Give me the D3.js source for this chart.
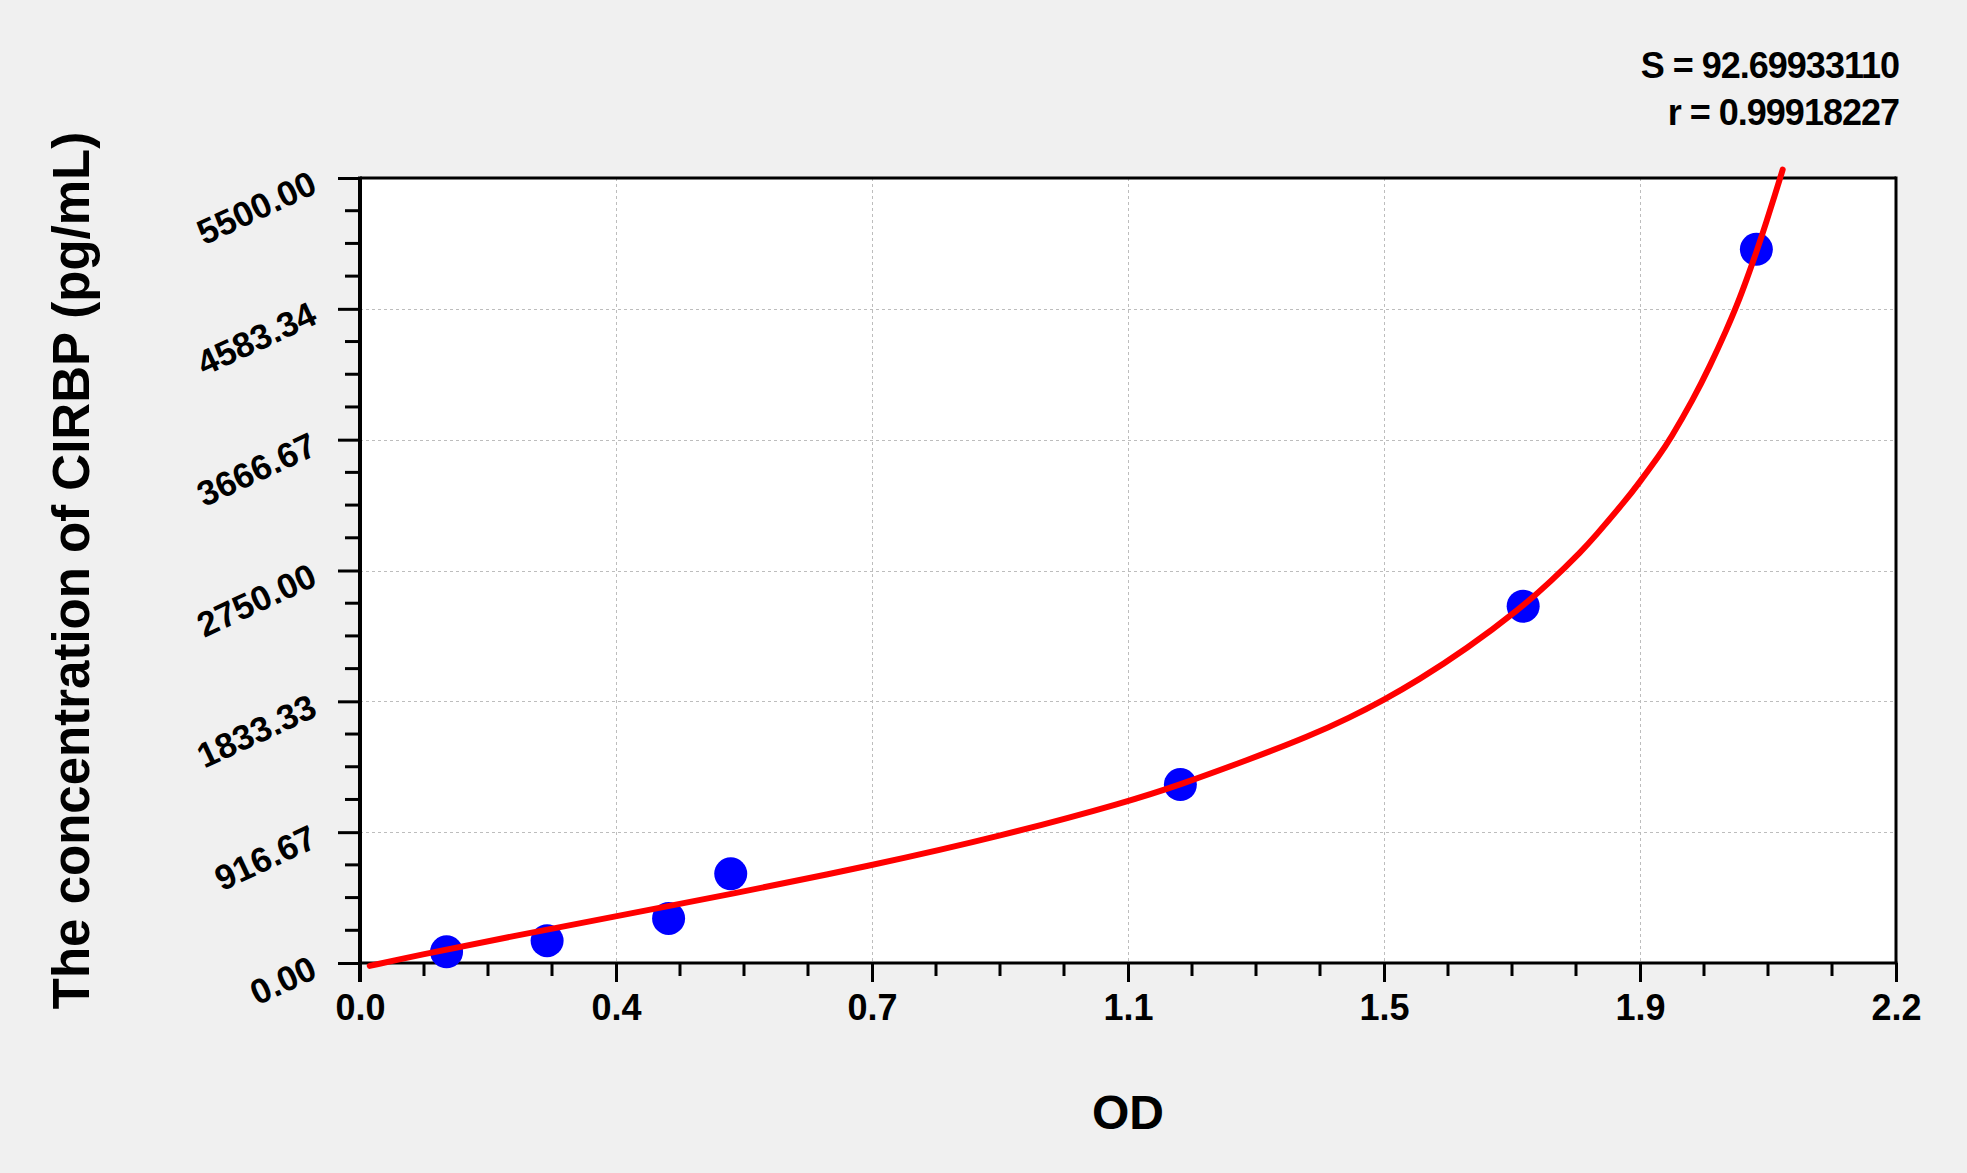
<!DOCTYPE html>
<html lang="en">
<head>
<meta charset="utf-8">
<title>CIRBP standard curve</title>
<script src="https://d3js.org/d3.v7.min.js"></script>
<style>
  body { margin: 0; background: #f0f0f0; }
  text { font-family: "Liberation Sans", Arial, sans-serif; font-weight: bold; fill: #000; }
</style>
</head>
<body>
<div id="chart"></div>
<script>
// standards: OD vs concentration (pg/mL)
var pointOD   = [0.124, 0.268, 0.442, 0.531, 1.175, 1.666, 2.000];
var pointConc = [78.125, 156.25, 312.5, 625, 1250, 2500, 5000];

// fitted curve
var curveOD   = [0.014, 0.077, 0.22, 0.364, 0.531, 0.734, 0.919, 1.1, 1.175, 1.272, 1.361, 1.418, 1.467, 1.5135, 1.585, 1.6625, 1.7044, 1.752, 1.7665, 1.8143, 1.83, 1.862, 1.876, 1.9097, 1.9336, 1.9575, 1.9718, 1.9862, 2.0005, 2.0148, 2.0267, 2.0377];
var curveConc = [-20, 49, 189, 325, 482, 684, 890, 1130, 1250, 1423, 1592, 1720, 1845, 1975, 2200, 2487, 2667, 2898, 2975, 3251, 3350, 3564, 3665, 3951, 4183, 4439, 4603, 4790, 4987, 5199, 5383, 5559];

var xTickLabels = ["0.0", "0.4", "0.7", "1.1", "1.5", "1.9", "2.2"];
var yTickLabels = ["0.00", "916.67", "1833.33", "2750.00", "3666.67", "4583.34", "5500.00"];
var fitText = ["S = 92.69933110", "r = 0.99918227"];

var W = 1967, H = 1173;
var pLeft = 360, pRight = 1896, pTop = 178, pBottom = 963;
var xMax = 2.2, yMax = 5500;

var svg = d3.select("#chart").append("svg")
    .attr("width", W).attr("height", H);

svg.append("rect").attr("width", W).attr("height", H).attr("fill", "#f0f0f0");

var x = d3.scaleLinear().domain([0, xMax]).range([pLeft, pRight]);
var y = d3.scaleLinear().domain([0, yMax]).range([pBottom, pTop]);

var xMajor = d3.range(xTickLabels.length).map(function (i) { return i * xMax / (xTickLabels.length - 1); });
var yMajor = d3.range(yTickLabels.length).map(function (i) { return i * yMax / (yTickLabels.length - 1); });
var xMinor = d3.range((xTickLabels.length - 1) * 4 + 1).map(function (i) { return i * xMax / ((xTickLabels.length - 1) * 4); });
var yMinor = d3.range((yTickLabels.length - 1) * 4 + 1).map(function (i) { return i * yMax / ((yTickLabels.length - 1) * 4); });

// plot area
svg.append("rect")
    .attr("x", pLeft).attr("y", pTop)
    .attr("width", pRight - pLeft).attr("height", pBottom - pTop)
    .attr("fill", "#fff");

// grid
var grid = svg.append("g").attr("stroke", "#bdbdbd").attr("stroke-width", 1).attr("stroke-dasharray", "3,3");
grid.selectAll(".gx").data(xMajor.slice(1, -1)).enter().append("line")
    .attr("x1", function (d) { return Math.round(x(d)) + 0.5; })
    .attr("x2", function (d) { return Math.round(x(d)) + 0.5; })
    .attr("y1", pTop).attr("y2", pBottom);
grid.selectAll(".gy").data(yMajor.slice(1, -1)).enter().append("line")
    .attr("y1", function (d) { return Math.round(y(d)) + 0.5; })
    .attr("y2", function (d) { return Math.round(y(d)) + 0.5; })
    .attr("x1", pLeft).attr("x2", pRight);

// frame
svg.append("line").attr("x1", pLeft).attr("x2", pRight).attr("y1", pTop).attr("y2", pTop)
    .attr("stroke", "#000").attr("stroke-width", 3);
svg.append("line").attr("x1", pRight).attr("x2", pRight).attr("y1", pTop - 1.5).attr("y2", pBottom)
    .attr("stroke", "#000").attr("stroke-width", 3);

// x axis
var xAxis = d3.axisBottom(x).tickValues(xMajor).tickSize(19)
    .tickFormat(function (d, i) { return xTickLabels[i]; }).tickPadding(12);
var gx = svg.append("g").attr("transform", "translate(0," + pBottom + ")").call(xAxis);
gx.select(".domain").remove();
gx.selectAll(".tick line").attr("stroke", "#000").attr("stroke-width", 3);
gx.selectAll(".tick text").style("font-size", "36px").style("font-family", "Liberation Sans, Arial, sans-serif").attr("fill", "#000");
gx.selectAll(".minor").data(xMinor.filter(function (d, i) { return i % 4 !== 0; })).enter().append("line")
    .attr("x1", function (d) { return x(d); }).attr("x2", function (d) { return x(d); })
    .attr("y1", 0).attr("y2", 13).attr("stroke", "#000").attr("stroke-width", 3);
gx.append("line").attr("x1", pLeft - 2).attr("x2", pRight + 1.5).attr("y1", 0).attr("y2", 0)
    .attr("stroke", "#000").attr("stroke-width", 3);

// y axis
var yAxis = d3.axisLeft(y).tickValues(yMajor).tickSize(22).tickFormat("");
var gy = svg.append("g").attr("transform", "translate(" + pLeft + ",0)").call(yAxis);
gy.select(".domain").remove();
gy.selectAll(".tick line").attr("stroke", "#000").attr("stroke-width", 3);
gy.selectAll(".minor").data(yMinor.filter(function (d, i) { return i % 4 !== 0; })).enter().append("line")
    .attr("y1", function (d) { return y(d); }).attr("y2", function (d) { return y(d); })
    .attr("x1", 0).attr("x2", -15).attr("stroke", "#000").attr("stroke-width", 3);
gy.append("line").attr("x1", 0).attr("x2", 0).attr("y1", pTop - 1.5).attr("y2", pBottom + 19)
    .attr("stroke", "#000").attr("stroke-width", 4);
gy.selectAll(".ylab").data(yMajor).enter().append("text")
    .attr("transform", function (d) { return "translate(-41," + (y(d) + 14) + ") rotate(-25)"; })
    .attr("text-anchor", "end")
    .style("font-size", "35px")
    .text(function (d, i) { return yTickLabels[i]; });

// fitted curve (basis spline smooths small reading errors)
var line = d3.line()
    .x(function (d) { return x(d[0]); })
    .y(function (d) { return y(d[1]); })
    .curve(d3.curveBasis);

// standards
svg.selectAll(".pt").data(pointOD).enter().append("circle")
    .attr("cx", function (d) { return x(d); })
    .attr("cy", function (d, i) { return y(pointConc[i]); })
    .attr("r", 16.5)
    .attr("fill", "#0000ff");

// curve lies over the markers in the reference
svg.append("path")
    .datum(curveOD.map(function (d, i) { return [d, curveConc[i]]; }))
    .attr("d", line)
    .attr("fill", "none").attr("stroke", "#ff0000").attr("stroke-width", 6)
    .attr("stroke-linecap", "round");

// titles
svg.append("text")
    .attr("x", (pLeft + pRight) / 2).attr("y", 1129)
    .attr("text-anchor", "middle").style("font-size", "48px")
    .text("OD");
svg.append("text")
    .attr("transform", "translate(89," + (pTop + pBottom) / 2 + ") rotate(-90)")
    .attr("text-anchor", "middle").style("font-size", "51px")
    .text("The concentration of CIRBP (pg/mL)");

svg.selectAll(".fit").data(fitText).enter().append("text")
    .attr("x", 1899).attr("y", function (d, i) { return 78 + i * 47; })
    .attr("text-anchor", "end").style("font-size", "36px").style("letter-spacing", "-1px")
    .text(function (d) { return d; });
</script>
</body>
</html>
